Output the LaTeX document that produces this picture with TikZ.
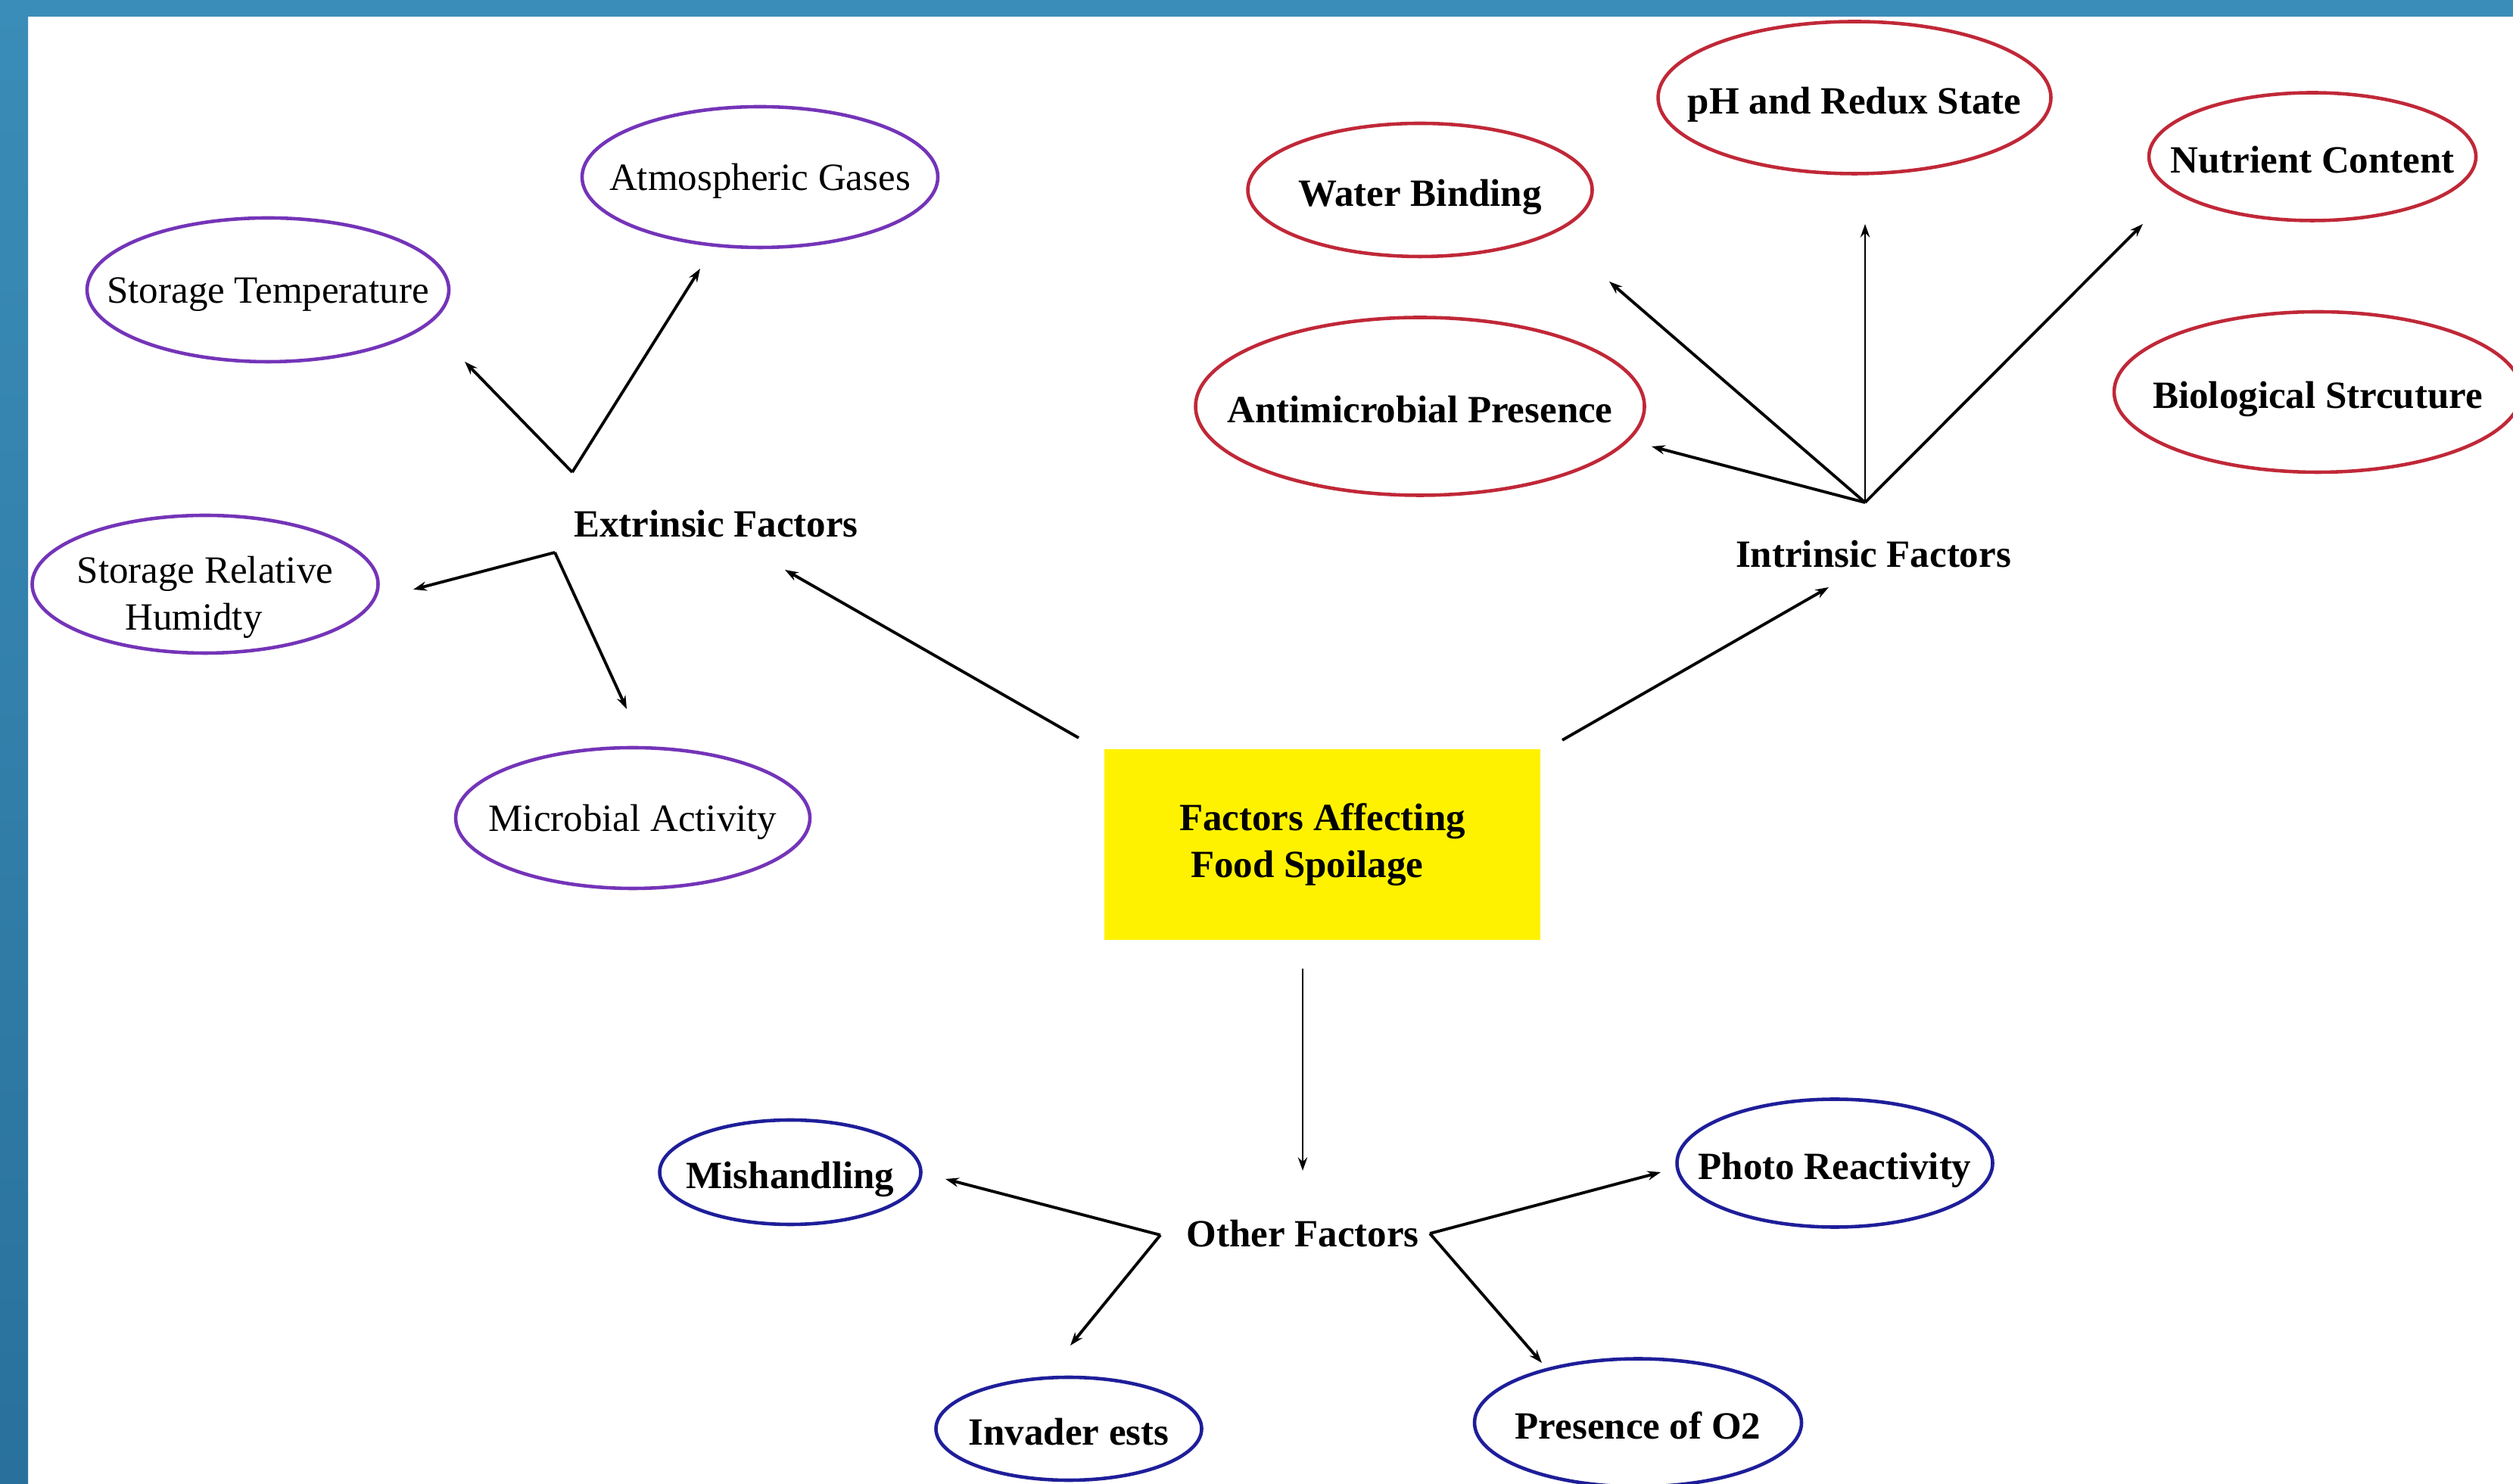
\documentclass[tikz,border=0pt]{standalone}
\usepackage{fontspec}
\setmainfont{Liberation Serif}
\usetikzlibrary{shapes.geometric, arrows.meta, positioning}
\definecolor{framebg}{HTML}{3A8DB8}
\definecolor{framedark}{HTML}{29719C}
\definecolor{extcol}{HTML}{7434B8}
\definecolor{intcol}{HTML}{C02838}
\definecolor{othcol}{HTML}{1E1E9A}
\tikzset{
	bubble/.style={ellipse, draw, line width=1.3pt, fill=white, inner sep=0pt, font=\fontsize{14.5}{17.5}\selectfont}
}
\tikzset{
	extbub/.style={bubble, draw=extcol},
	intbub/.style={bubble, draw=intcol, font=\fontsize{14.5}{17.5}\selectfont\bfseries},
	othbub/.style={bubble, draw=othcol, font=\fontsize{14.5}{17.5}\selectfont\bfseries}
}
\tikzset{
	headtext/.style={font=\fontsize{14.5}{17.5}\selectfont\bfseries}
}
\tikzset{
	link/.style={line width=1.1pt, -{Stealth[length=5pt,width=3.5pt]}}
}
\newcommand{\ctr}[2][-6pt]{\makebox[0pt]{\raisebox{#1}[0pt][0pt]{#2}}}

\begin{document}
\begin{tikzpicture}
      \clip (0,0) rectangle (33.2,19.6);
      % frame
      \fill[white] (0,0) rectangle (33.2,19.6);
      \shade[top color=framebg, bottom color=framedark] (0,0) rectangle (0.37,19.6);
      \fill[framebg] (0,19.38) rectangle (33.2,19.6);

      % centre
      \node[fill=yellow, minimum width=5.76cm, minimum height=2.52cm, align=left, headtext] (spoil) at (17.47,8.44) {Factors Affecting\\ \hspace*{0.15cm}Food Spoilage};
      \node[headtext] (extr) at (9.46,12.68) {Extrinsic Factors};
      \node[headtext] (intr) at (24.75,12.28) {Intrinsic Factors};
      \node[headtext] (other) at (17.21,3.30) {Other Factors};

      % extrinsic
      \node[extbub, minimum width=4.70cm, minimum height=1.86cm] (gases) at (10.04,17.26) {\ctr[-5pt]{Atmospheric Gases}};
      \node[extbub, minimum width=4.78cm, minimum height=1.90cm] (temp) at (3.54,15.77) {\ctr[-5pt]{Storage Temperature}};
      \node[extbub, minimum width=4.57cm, minimum height=1.82cm] (humid) at (2.71,11.88) {\ctr[-8.5pt]{\begin{tabular}{@{}c@{}}Storage Relative\\ Humidty\hspace*{0.3cm}\end{tabular}}};
      \node[extbub, minimum width=4.68cm, minimum height=1.86cm] (micro) at (8.36,8.79) {\ctr[-5pt]{Microbial Activity}};

      % intrinsic
      \node[intbub, minimum width=5.19cm, minimum height=2.01cm] (redox) at (24.50,18.31) {\ctr{pH and Redux State}};
      \node[intbub, minimum width=4.55cm, minimum height=1.76cm] (water) at (18.76,17.09) {\ctr{Water Binding}};
      \node[intbub, minimum width=4.32cm, minimum height=1.69cm] (nutri) at (30.55,17.53) {\ctr{Nutrient Content}};
      \node[intbub, minimum width=5.93cm, minimum height=2.35cm] (antim) at (18.76,14.23) {\ctr{Antimicrobial Presence}};
      \node[intbub, minimum width=5.38cm, minimum height=2.12cm] (biol) at (30.62,14.42) {\ctr{Biological Strcuture}};

      % other
      \node[othbub, minimum width=3.45cm, minimum height=1.38cm] (mish) at (10.44,4.11) {\ctr{Mishandling}};
      \node[othbub, minimum width=3.51cm, minimum height=1.36cm] (pests) at (14.12,0.72) {\ctr{Invader ests}};
      \node[othbub, minimum width=4.17cm, minimum height=1.69cm] (photo) at (24.24,4.23) {\ctr{Photo Reactivity}};
      \node[othbub, minimum width=4.32cm, minimum height=1.69cm] (oxy) at (21.64,0.80) {\ctr{Presence of O2}};

      % arrow ends
      \coordinate (extA) at (7.56,13.36);
      \coordinate (extB) at (7.33,12.30);
      \coordinate (toTemp) at (6.14,14.82);
      \coordinate (toGases) at (9.25,16.05);
      \coordinate (toHumid) at (5.46,11.81);
      \coordinate (toMicro) at (8.28,10.23);
      \coordinate (fromSpoilL) at (14.25,9.85);
      \coordinate (toExtr) at (10.37,12.07);
      \coordinate (fromSpoilR) at (20.64,9.82);
      \coordinate (toIntr) at (24.16,11.84);
      \coordinate (intA) at (24.64,12.96);
      \coordinate (toAntim) at (21.82,13.70);
      \coordinate (toWater) at (21.26,15.88);
      \coordinate (toRedox) at (24.64,16.64);
      \coordinate (toNutri) at (28.31,16.64);
      \coordinate (fromSpoilD) at (17.21,6.80);
      \coordinate (toOther) at (17.21,4.13);
      \coordinate (othA) at (15.33,3.28);
      \coordinate (othB) at (18.89,3.30);
      \coordinate (toMish) at (12.49,4.02);
      \coordinate (toPests) at (14.14,1.82);
      \coordinate (toPhoto) at (21.94,4.11);
      \coordinate (toOxy) at (20.37,1.59);

      \draw[link] (fromSpoilL) -- (toExtr);
      \draw[link] (fromSpoilR) -- (toIntr);
      \draw[link, line width=0.7pt] (fromSpoilD) -- (toOther);

      \draw[link] (extA) -- (toTemp);
      \draw[link] (extA) -- (toGases);
      \draw[link] (extB) -- (toHumid);
      \draw[link] (extB) -- (toMicro);

      \draw[link] (intA) -- (toAntim);
      \draw[link] (intA) -- (toWater);
      \draw[link, line width=0.8pt] (intA) -- (toRedox);
      \draw[link] (intA) -- (toNutri);

      \draw[link] (othA) -- (toMish);
      \draw[link] (othA) -- (toPests);
      \draw[link] (othB) -- (toPhoto);
      \draw[link] (othB) -- (toOxy);
\end{tikzpicture}
\end{document}
